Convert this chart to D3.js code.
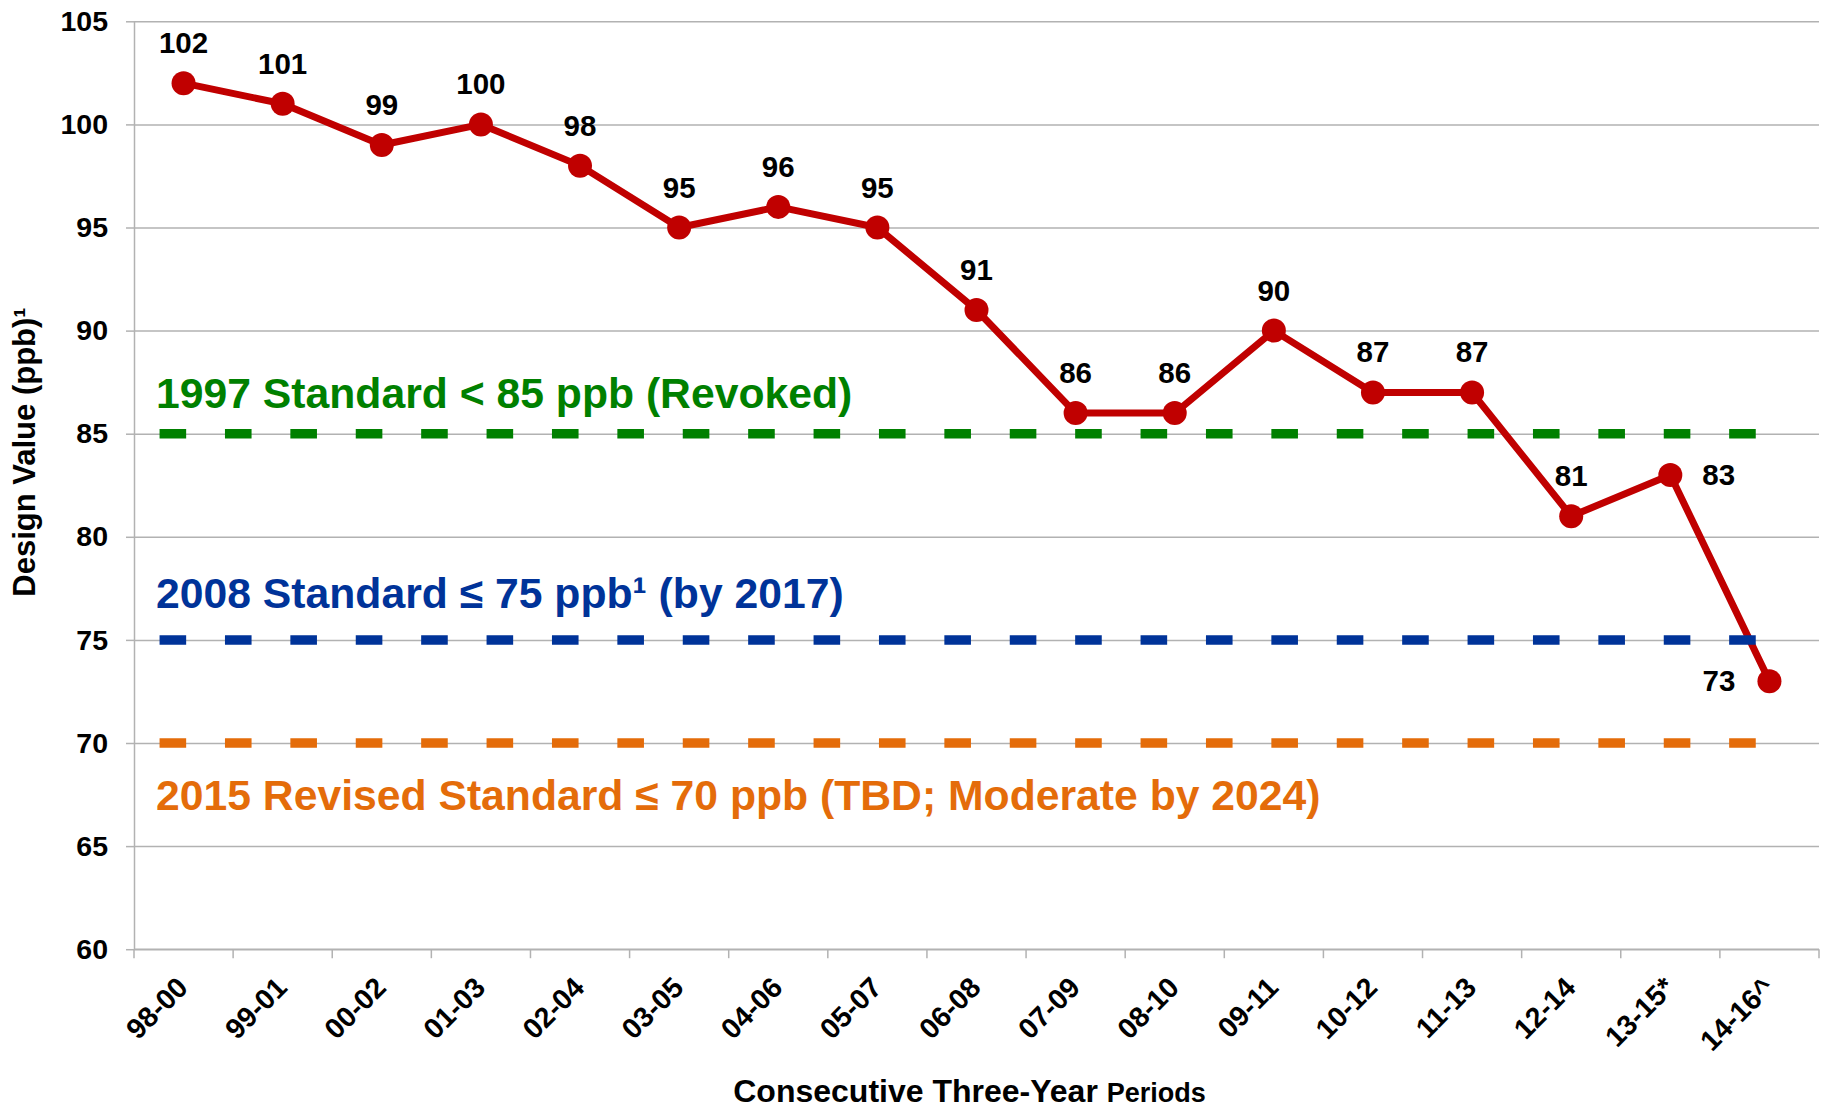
<!DOCTYPE html>
<html>
<head>
<meta charset="utf-8">
<script src="https://cdn.jsdelivr.net/npm/d3@7"></script>
<style>
  html, body { margin: 0; padding: 0; background: #ffffff; }
  svg { display: block; font-family: "Liberation Sans", Arial, Helvetica, sans-serif; font-weight: bold; }
</style>
</head>
<body>
<svg id="chart" width="1826" height="1108"></svg>
<script>
// ---- data ----
const categories = ["98-00","99-01","00-02","01-03","02-04","03-05","04-06","05-07","06-08","07-09","08-10","09-11","10-12","11-13","12-14","13-15*","14-16^"];
const designValues = [102,101,99,100,98,95,96,95,91,86,86,90,87,87,81,83,73];
const yTicks = [60,65,70,75,80,85,90,95,100,105];
const standardValues = [85, 75, 70];
const standardLabels = ["1997 Standard < 85 ppb (Revoked)", "2008 Standard \u2264 75 ppb\u00b9 (by 2017)", "2015 Revised Standard \u2264 70 ppb (TBD; Moderate by 2024)"];
const yTitle = "Design Value (ppb)\u00b9";
const xTitleMain = "Consecutive Three-Year ";
const xTitleSmall = "Periods";

// ---- styles ----
const standardColors = ["#008000", "#003399", "#E46C0A"];
const standardLabelOffsets = [-26, -32, 67]; // px relative to the line
const seriesColor = "#C00000";
const gridColor = "#b2b2b2";

const svg = d3.select("#chart");
const plot = {left: 134, right: 1819, top: 21.3, bottom: 949.2};

const x = d3.scaleBand().domain(categories).range([plot.left, plot.right]).padding(0);
const y = d3.scaleLinear().domain([60, 105]).range([plot.bottom, plot.top]);
const cx = d => x(d) + x.bandwidth() / 2;

// gridlines
svg.append("g")
  .attr("transform", `translate(${plot.left},0)`)
  .call(d3.axisLeft(y).tickValues(yTicks).tickSize(-(plot.right - plot.left)).tickFormat(""))
  .call(g => g.select(".domain").remove())
  .call(g => g.selectAll("line").attr("stroke", gridColor).attr("stroke-width", 1.5));

// y axis
svg.append("g")
  .attr("transform", `translate(${plot.left},0)`)
  .call(d3.axisLeft(y).tickValues(yTicks).tickSize(8).tickPadding(18).tickSizeOuter(0))
  .call(g => g.select(".domain").attr("stroke", gridColor).attr("stroke-width", 1.5))
  .call(g => g.selectAll("line").attr("stroke", gridColor).attr("stroke-width", 1.5))
  .call(g => g.selectAll("text").attr("fill", "#000").style("font-size", "28.5px").style("font-weight", "bold").style("font-family", "'Liberation Sans', Arial, sans-serif"));

// x axis
const xAxisG = svg.append("g")
  .attr("transform", `translate(0,${plot.bottom})`);
xAxisG.append("line")
  .attr("x1", plot.left).attr("x2", plot.right).attr("y1", 0).attr("y2", 0)
  .attr("stroke", gridColor).attr("stroke-width", 1.5);
const boundaries = categories.map(c => x(c)).concat([x.range()[1]]);
xAxisG.selectAll("line.tick").data(boundaries).enter().append("line")
  .attr("class", "tick")
  .attr("x1", d => d).attr("x2", d => d).attr("y1", 0).attr("y2", 9)
  .attr("stroke", gridColor).attr("stroke-width", 1.5);
xAxisG.selectAll("text").data(categories).enter().append("text")
  .attr("transform", d => `translate(${cx(d) + 6},40) rotate(-45)`)
  .attr("text-anchor", "end")
  .style("font-size", "28.5px")
  .attr("fill", "#000")
  .text(d => d);

// red series line
const line = d3.line().x((d, i) => cx(categories[i])).y(d => y(d));
svg.append("path")
  .datum(designValues)
  .attr("d", line)
  .attr("fill", "none")
  .attr("stroke", seriesColor)
  .attr("stroke-width", 7)
  .attr("stroke-linejoin", "round");

svg.selectAll("circle.pt").data(designValues).enter().append("circle")
  .attr("class", "pt")
  .attr("cx", (d, i) => cx(categories[i]))
  .attr("cy", d => y(d))
  .attr("r", 12)
  .attr("fill", seriesColor);

// standards dashed lines
const first = cx(categories[0]) - 24;
const last = cx(categories[categories.length - 1]) - 10;
standardValues.forEach((v, i) => {
  svg.append("line")
    .attr("x1", first).attr("x2", last)
    .attr("y1", y(v)).attr("y2", y(v))
    .attr("stroke", standardColors[i])
    .attr("stroke-width", 9.5)
    .attr("stroke-dasharray", "26.6 38.8");
  svg.append("text")
    .attr("x", plot.left + 22)
    .attr("y", y(v) + standardLabelOffsets[i])
    .attr("fill", standardColors[i])
    .style("font-size", "42.7px")
    .text(standardLabels[i]);
});

// data labels
const n = designValues.length;
svg.selectAll("text.dl").data(designValues).enter().append("text")
  .attr("class", "dl")
  .attr("x", (d, i) => {
    const px = cx(categories[i]);
    if (i === n - 2) return px + 32;
    if (i === n - 1) return px - 34;
    return px;
  })
  .attr("y", (d, i) => (i >= n - 2) ? y(d) + 10 : y(d) - 30)
  .attr("text-anchor", (d, i) => i === n - 2 ? "start" : (i === n - 1 ? "end" : "middle"))
  .style("font-size", "29.5px")
  .attr("fill", "#000")
  .text(d => d);

// y title
svg.append("text")
  .attr("transform", `translate(35,452) rotate(-90)`)
  .attr("text-anchor", "middle")
  .style("font-size", "31px")
  .attr("fill", "#000")
  .text(yTitle);

// x title
const xt = svg.append("text")
  .attr("x", (plot.left + plot.right) / 2 - 7)
  .attr("y", 1102)
  .attr("text-anchor", "middle")
  .attr("fill", "#000");
xt.append("tspan").style("font-size", "32px").text(xTitleMain);
xt.append("tspan").style("font-size", "27px").text(xTitleSmall);
</script>
</body>
</html>
